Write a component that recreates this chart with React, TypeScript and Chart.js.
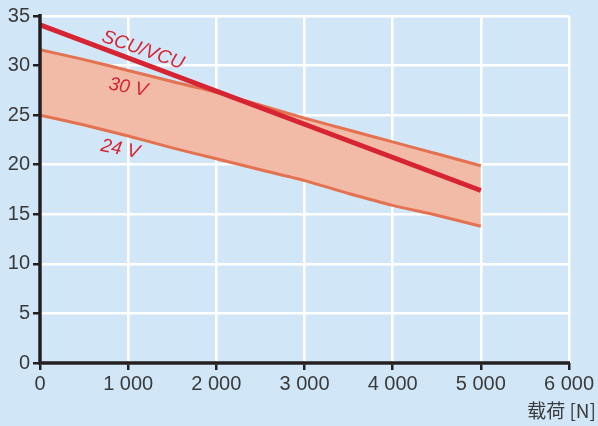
import React, { useEffect, useRef } from "react";
import { Chart, registerables } from "chart.js";

Chart.register(...registerables);

const loads = [0, 500, 1000, 1500, 2000, 2500, 3000, 3500, 4000, 4500, 5000];
const upper30V = [31.6, 30.6, 29.5, 28.4, 27.3, 26.0, 24.7, 23.5, 22.3, 21.1, 19.9];
const lower24V = [25.0, 24.0, 22.9, 21.7, 20.6, 19.5, 18.4, 17.1, 15.9, 14.9, 13.8];
const scuLoads = [0, 5000];
const scuValues = [34.1, 17.4];
const xTicks = [0, 1000, 2000, 3000, 4000, 5000, 6000];
const yTicks = [0, 5, 10, 15, 20, 25, 30, 35];
const xTitle = "载荷 [N]";
const lineLabels = [
  { text: "SCU/VCU", x: 690, y: 32.45, angle: 19 },
  { text: "30 V", x: 770, y: 27.6, angle: 10 },
  { text: "24 V", x: 680, y: 21.4, angle: 11 },
];

const BG = "#d1e7f7";
const RED = "#d62432";
const BAND_LINE = "#e4714f";
const BAND_FILL = "#f2bba7";
const AXIS = "#231f20";
const TEXT = "#3a3a3a";

const fmt = (v: number) => (v >= 1000 ? `${Math.floor(v / 1000)} ${String(v % 1000).padStart(3, "0")}` : String(v));

export default function App() {
  const ref = useRef<HTMLCanvasElement | null>(null);
  useEffect(() => {
    document.body.style.margin = "0";
    const canvas = ref.current!;
    const overlay = {
      id: "overlay",
      beforeDraw(chart: any) {
        const c = chart.ctx;
        c.save();
        c.fillStyle = BG;
        c.fillRect(0, 0, chart.width, chart.height);
        c.restore();
      },
      afterDatasetsDraw(chart: any) {
        const c = chart.ctx;
        const { left, right, top, bottom } = chart.chartArea;
        const xs = chart.scales.x;
        const ys = chart.scales.y;
        c.save();
        c.strokeStyle = AXIS;
        c.lineWidth = 3.5;
        c.beginPath();
        c.moveTo(left, top - 2);
        c.lineTo(left, bottom);
        c.lineTo(right + 1, bottom);
        c.stroke();
        // line labels
        c.fillStyle = RED;
        c.font = 'italic 19px "Liberation Sans", "DejaVu Sans", sans-serif';
        c.textAlign = "left";
        c.textBaseline = "alphabetic";
        for (const l of lineLabels) {
          c.save();
          c.translate(xs.getPixelForValue(l.x), ys.getPixelForValue(l.y));
          c.rotate((l.angle * Math.PI) / 180);
          c.fillText(l.text, 0, 0);
          c.restore();
        }
        // axis title
        c.fillStyle = TEXT;
        c.font = '19px "Noto Sans CJK SC", "Liberation Sans", sans-serif';
        c.textAlign = "right";
        c.textBaseline = "middle";
        c.fillText(xTitle, chart.width - 2, 411);
        c.restore();
      },
    };
    const chart = new Chart(canvas, {
      type: "line",
      data: {
        datasets: [
          {
            label: "30 V",
            data: loads.map((x, i) => ({ x, y: upper30V[i] })),
            borderColor: BAND_LINE,
            borderWidth: 3,
            pointRadius: 0,
            tension: 0.25,
            fill: false,
            order: 2,
          },
          {
            label: "24 V",
            data: loads.map((x, i) => ({ x, y: lower24V[i] })),
            borderColor: BAND_LINE,
            backgroundColor: BAND_FILL,
            borderWidth: 3,
            pointRadius: 0,
            tension: 0.25,
            fill: "-1",
            order: 2,
          },
          {
            label: "SCU/VCU",
            data: scuLoads.map((x, i) => ({ x, y: scuValues[i] })),
            borderColor: RED,
            borderWidth: 5,
            pointRadius: 0,
            fill: false,
            order: 1,
          },
        ],
      },
      options: {
        animation: false,
        responsive: false,
        devicePixelRatio: 1,
        layout: { padding: { top: 16, right: 29, left: 0, bottom: 0 } },
        plugins: { legend: { display: false }, tooltip: { enabled: false } },
        scales: {
          x: {
            type: "linear",
            min: 0,
            max: 6000,
            afterFit(s: any) {
              s.height = 63;
            },
            afterBuildTicks(s: any) {
              s.ticks = xTicks.map((v) => ({ value: v }));
            },
            border: { display: false },
            grid: { color: "#ffffff", lineWidth: 2.5, tickColor: AXIS, tickWidth: 2.5, tickLength: 7 },
            ticks: {
              color: TEXT,
              font: { family: '"Liberation Sans", sans-serif', size: 20 },
              padding: 2,
              maxRotation: 0,
              callback: (v: any) => fmt(Number(v)),
            },
          },
          y: {
            min: 0,
            max: 35,
            afterFit(s: any) {
              s.width = 40;
            },
            afterBuildTicks(s: any) {
              s.ticks = yTicks.map((v) => ({ value: v }));
            },
            border: { display: false },
            grid: { color: "#ffffff", lineWidth: 2.5, tickColor: AXIS, tickWidth: 2.5, tickLength: 7 },
            ticks: {
              color: TEXT,
              font: { family: '"Liberation Sans", sans-serif', size: 20 },
              padding: 3,
            },
          },
        },
      },
      plugins: [overlay],
    });
    return () => chart.destroy();
  }, []);
  return (
    <div style={{ width: 598, height: 426 }}>
      <canvas ref={ref} width={598} height={426} style={{ display: "block" }} />
    </div>
  );
}
